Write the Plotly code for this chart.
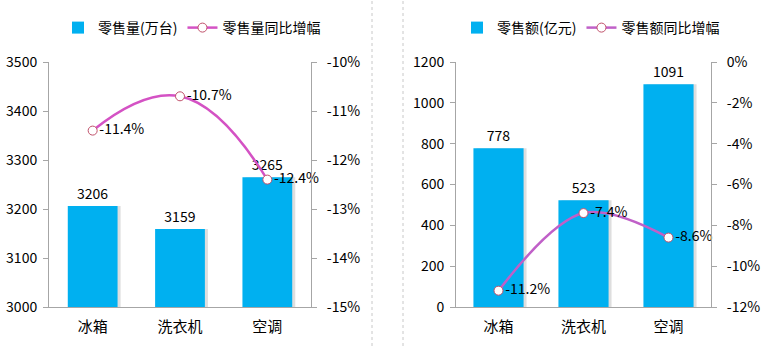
import plotly.graph_objects as go

categories = ["冰箱", "洗衣机", "空调"]
volume = [3206, 3159, 3265]          # 零售量(万台)
volume_yoy = [-11.4, -10.7, -12.4]   # 零售量同比增幅 (%)
amount = [778, 523, 1091]            # 零售额(亿元)
amount_yoy = [-11.2, -7.4, -8.6]     # 零售额同比增幅 (%)

vol_ticks = [3000, 3100, 3200, 3300, 3400, 3500]
vol_yoy_ticks = [-15, -14, -13, -12, -11, -10]
amt_ticks = [0, 200, 400, 600, 800, 1000, 1200]
amt_yoy_ticks = [-12, -10, -8, -6, -4, -2, 0]

FONT = "Noto Sans CJK SC, Microsoft YaHei, sans-serif"
BAR = "#00B0F0"
AX = "#A6A6A6"
FS = 14

fig = go.Figure()

def pct(v):
    return [f"{x:.1f}%" for x in v]

def pct_ticks(v):
    return [f"{x}%" for x in v]

def add_panel(vals, yoy, bar_name, line_name, xa, ya, ya2, leg, bw, line_color, smooth):
    # soft shadow behind the bars
    fig.add_trace(go.Bar(x=categories, y=vals, marker=dict(color="rgba(0,0,0,0.13)", line_width=0),
                         width=bw, offset=-bw / 2 + 0.035, hoverinfo="skip", showlegend=False,
                         xaxis=xa, yaxis=ya))
    fig.add_trace(go.Bar(x=categories, y=vals, name=bar_name, marker=dict(color=BAR, line_width=0),
                         width=bw, offset=-bw / 2, text=[str(v) for v in vals], textposition="outside",
                         textfont=dict(size=FS, color="#000"), cliponaxis=False,
                         xaxis=xa, yaxis=ya, legend=leg))
    fig.add_trace(go.Scatter(x=categories, y=yoy, name=line_name,
                             mode="lines+markers+text",
                             line=dict(color=line_color, width=2.5, shape="spline", smoothing=smooth),
                             marker=dict(size=9, color="white", line=dict(color="#C0506A", width=1)),
                             text=pct(yoy), textposition="middle right",
                             textfont=dict(size=FS, color="#000"), cliponaxis=False,
                             xaxis=xa, yaxis=ya2, legend=leg))

add_panel(volume, volume_yoy, "零售量(万台)", "零售量同比增幅", "x", "y", "y2", "legend", 0.57, "#D452C4", 1.3)
add_panel(amount, amount_yoy, "零售额(亿元)", "零售额同比增幅", "x2", "y3", "y4", "legend2", 0.59, "#C060C8", 1.0)

W, H = 767, 346
ydom = [(H - 307) / H, (H - 62) / H]
left_dom = [49 / W, 311 / W]
right_dom = [456 / W, 711 / W]

common_y = dict(showgrid=False, showline=True, linecolor=AX, linewidth=1, ticks="outside",
                ticklen=5, tickcolor=AX, tickfont=dict(size=FS, color="#000"), zeroline=False,
                domain=ydom, automargin=False)
common_x = dict(showgrid=False, showline=True, linecolor=AX, linewidth=1, ticks="",
                tickfont=dict(size=FS + 1, color="#000"), automargin=False, ticklabelstandoff=6)

fig.update_layout(
    width=W, height=H, margin=dict(l=0, r=0, t=0, b=0, autoexpand=False),
    paper_bgcolor="white", plot_bgcolor="white",
    font=dict(family=FONT, size=FS, color="#000"),
    barmode="overlay",
    xaxis=dict(**common_x, domain=left_dom, anchor="y"),
    yaxis=dict(**common_y, range=[3000, 3500], tickvals=vol_ticks, ticktext=[str(t) for t in vol_ticks],
               anchor="x", ticklabelstandoff=3),
    yaxis2=dict(**common_y, range=[-15, -10], tickvals=vol_yoy_ticks, ticktext=pct_ticks(vol_yoy_ticks),
                overlaying="y", side="right", anchor="x", ticklabelstandoff=7),
    xaxis2=dict(**common_x, domain=right_dom, anchor="y3"),
    yaxis3=dict(**common_y, range=[0, 1200], tickvals=amt_ticks, ticktext=[str(t) for t in amt_ticks],
                anchor="x2", ticklabelstandoff=3),
    yaxis4=dict(**common_y, range=[-12, 0], tickvals=amt_yoy_ticks, ticktext=pct_ticks(amt_yoy_ticks),
                overlaying="y3", side="right", anchor="x2", ticklabelstandoff=7),
    legend=dict(orientation="h", x=58 / W, y=(H - 28) / H, xanchor="left", yanchor="middle",
                font=dict(size=FS), bgcolor="rgba(0,0,0,0)", itemwidth=30, tracegroupgap=0),
    legend2=dict(orientation="h", x=457 / W, y=(H - 28) / H, xanchor="left", yanchor="middle",
                 font=dict(size=FS), bgcolor="rgba(0,0,0,0)", itemwidth=30, tracegroupgap=0),
    showlegend=True,
    shapes=[
        dict(type="line", xref="paper", yref="paper", x0=372 / W, x1=372 / W, y0=0, y1=1,
             line=dict(color="#C8C8C8", width=1, dash="dot")),
        dict(type="line", xref="paper", yref="paper", x0=403 / W, x1=403 / W, y0=0, y1=1,
             line=dict(color="#C8C8C8", width=1, dash="dot")),
    ],
)

fig.write_html("out.html")
